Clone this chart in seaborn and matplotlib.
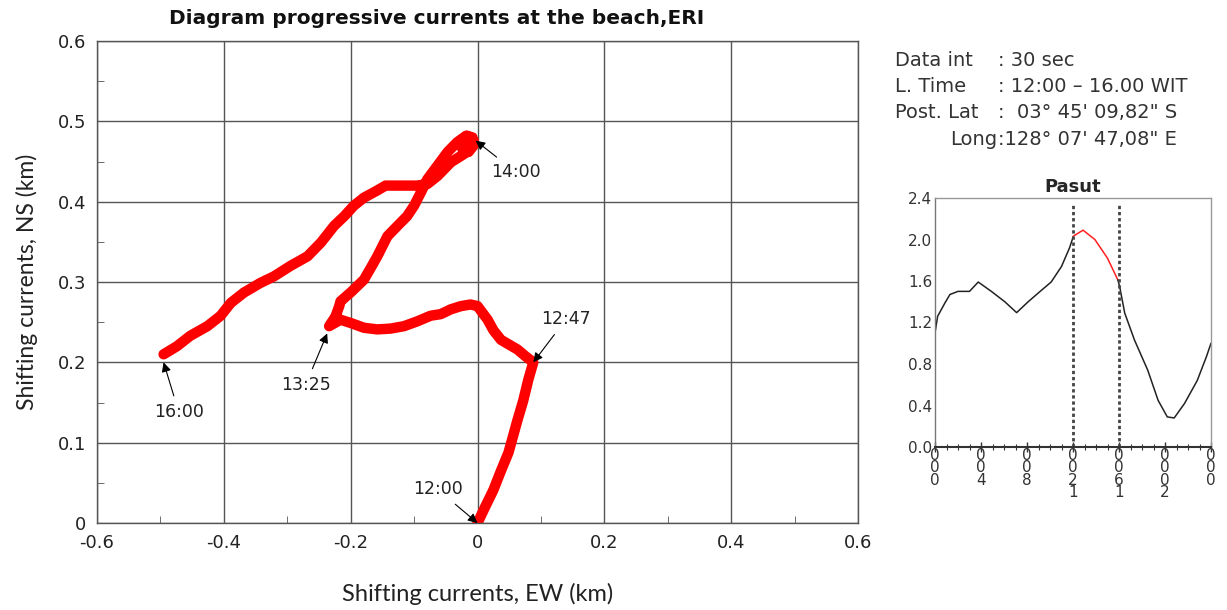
import numpy as np
import pandas as pd
import matplotlib
matplotlib.use("Agg")
import matplotlib.pyplot as plt
import seaborn as sns

# progressive vector track (km)
ew = [0.0, 0.012, 0.025, 0.037, 0.049, 0.056, 0.063, 0.072, 0.080, 0.088,
      0.075, 0.063, 0.050, 0.037, 0.025, 0.016, 0.0, -0.011, -0.026, -0.042,
      -0.058, -0.074, -0.095, -0.116, -0.137, -0.158, -0.179, -0.200, -0.216, -0.234,
      -0.224, -0.218, -0.216, -0.200, -0.179, -0.168, -0.158, -0.142, -0.126, -0.111,
      -0.100, -0.089, -0.079, -0.063, -0.047, -0.032, -0.018, -0.008, -0.006, -0.014,
      -0.024, -0.026, -0.016, -0.006, -0.016, -0.030, -0.042, -0.063, -0.079, -0.095,
      -0.121, -0.145, -0.158, -0.179, -0.195, -0.210, -0.226, -0.247, -0.268, -0.295,
      -0.321, -0.342, -0.368, -0.389, -0.405, -0.426, -0.453, -0.474, -0.495]
ns = [0.0, 0.020, 0.041, 0.065, 0.088, 0.108, 0.128, 0.152, 0.178, 0.200,
      0.208, 0.216, 0.222, 0.228, 0.240, 0.253, 0.270, 0.272, 0.270, 0.266,
      0.260, 0.258, 0.251, 0.245, 0.242, 0.241, 0.243, 0.249, 0.253, 0.245,
      0.257, 0.270, 0.276, 0.287, 0.303, 0.318, 0.332, 0.357, 0.370, 0.382,
      0.395, 0.412, 0.428, 0.445, 0.462, 0.474, 0.482, 0.480, 0.470, 0.462,
      0.466, 0.476, 0.482, 0.476, 0.462, 0.455, 0.449, 0.432, 0.422, 0.420,
      0.420, 0.420, 0.414, 0.405, 0.395, 0.382, 0.370, 0.349, 0.332, 0.320,
      0.307, 0.299, 0.287, 0.274, 0.258, 0.245, 0.233, 0.220, 0.210]

# time marks: label, point, text position
mark_labels = ["12:00", "12:47", "13:25", "14:00", "16:00"]
mark_xy = [(0.0, 0.0), (0.088, 0.2), (-0.237, 0.236), (-0.003, 0.476), (-0.495, 0.2)]
mark_text = [(-0.063, 0.042), (0.14, 0.254), (-0.271, 0.172), (0.06, 0.437), (-0.471, 0.138)]

# tide (Pasut) curve, hours vs metres
tide_h = [0.0, 0.23, 0.87, 1.3, 2.0, 3.0, 3.76, 4.9, 6.07, 7.1, 8.1, 9.25, 10.1, 11.0, 11.7, 12.0]
tide_v = [1.10, 1.26, 1.39, 1.47, 1.50, 1.50, 1.59, 1.50, 1.40, 1.295, 1.40, 1.51, 1.59, 1.74, 1.92, 2.02]
obs_h = [12.0, 12.87, 13.9, 15.0, 15.9]
obs_v = [2.03, 2.09, 2.00, 1.82, 1.61]
tide2_h = [15.9, 16.05, 16.5, 17.35, 18.5, 19.4, 20.2, 20.8, 21.7, 22.8, 23.6, 24.0]
tide2_v = [1.61, 1.55, 1.29, 1.03, 0.74, 0.45, 0.29, 0.28, 0.42, 0.64, 0.87, 1.00]
tide_ticks = [0, 4, 8, 12, 16, 20, 24]
tide_ticklabels = ["000", "400", "800", "1200", "1600", "2000", "000"]

info_keys = ["Data int", "L. Time", "Post. Lat", "Long"]
info_vals = [": 30 sec", ": 12:00 \u2013 16.00 WIT", ":  03\u00b0 45' 09,82\" S", ":128\u00b0 07' 47,08\" E"]

sns.set_style("white")
plt.rcParams['font.family'] = ['DejaVu Sans']

fig = plt.figure(figsize=(12.27, 6.10), dpi=100)

# main track plot
ax = fig.add_axes([97 / 1227, 87 / 610, 761 / 1227, 482 / 610])
track = pd.DataFrame({"ew": ew, "ns": ns})
sns.lineplot(data=track, x="ew", y="ns", sort=False, estimator=None, color="#ff0000",
             linewidth=7.5, ax=ax, solid_capstyle="round", solid_joinstyle="round")
ax.set_xlim(-0.6, 0.6)
ax.set_ylim(0, 0.6)
ax.set_xticks(np.arange(-0.6, 0.61, 0.2))
ax.set_xticklabels(["-0.6", "-0.4", "-0.2", "0", "0.2", "0.4", "0.6"])
ax.set_yticks(np.arange(0, 0.61, 0.1))
ax.set_yticklabels(["0", "0.1", "0.2", "0.3", "0.4", "0.5", "0.6"])
ax.set_xticks(np.arange(-0.5, 0.6, 0.2), minor=True)
ax.set_yticks(np.arange(0.05, 0.6, 0.1), minor=True)
ax.grid(True, which="major", color="#555555", linewidth=1.0)
ax.set_axisbelow(True)
ax.tick_params(which="major", length=0, labelsize=13, pad=8, labelcolor="#222222")
ax.tick_params(which="minor", direction="in", length=5, color="#555555",
               bottom=True, left=True)
for s in ax.spines.values():
    s.set_color("#555555")
    s.set_linewidth(1.0)
ax.set_xlabel("Shifting currents, EW (km)", fontsize=17, family="Lato", labelpad=22, color="#222222")
ax.set_ylabel("Shifting currents, NS (km)", fontsize=16.5, family="Lato", labelpad=14, color="#222222")

for lab, xy, txt in zip(mark_labels, mark_xy, mark_text):
    ax.annotate(lab, xy=xy, xytext=txt, ha="center", va="center", fontsize=12.5,
                color="#222222",
                arrowprops=dict(arrowstyle="-|>", color="black", lw=0.8,
                                mutation_scale=14, shrinkA=3, shrinkB=0))

fig.text(437 / 1227, 1 - 18 / 610, "Diagram progressive currents at the beach,ERI",
         ha="center", va="center", fontsize=14.5, fontweight="bold", color="#111111")

# info block
for i, (k, v) in enumerate(zip(info_keys, info_vals)):
    y = 1 - (60 + i * 26.5) / 610
    if k == "Long":
        fig.text(997 / 1227, y, k, ha="right", va="center", fontsize=14, color="#333333")
    else:
        fig.text(895 / 1227, y, k, ha="left", va="center", fontsize=14, color="#333333")
    fig.text(998 / 1227, y, v, ha="left", va="center", fontsize=14, color="#333333")

# tide inset
ax2 = fig.add_axes([935 / 1227, 163 / 610, 276 / 1227, 249 / 610])
sns.lineplot(x=tide_h, y=tide_v, color="#222222", linewidth=1.1, ax=ax2, estimator=None, sort=False)
sns.lineplot(x=obs_h, y=obs_v, color="#ff2020", linewidth=1.1, ax=ax2, estimator=None, sort=False)
sns.lineplot(x=tide2_h, y=tide2_v, color="#222222", linewidth=1.1, ax=ax2, estimator=None, sort=False)
for h in [12, 16]:
    ax2.axvline(h, ymax=0.975, color="#444444", linestyle=(0, (1.2, 1.0)), linewidth=2.0)
ax2.set_xlim(0, 24)
ax2.set_ylim(0, 2.4)
ax2.set_yticks(np.arange(0, 2.41, 0.4))
ax2.set_yticklabels(["%.1f" % v for v in np.arange(0, 2.41, 0.4)])
ax2.set_xticks(tide_ticks)
ax2.set_xticklabels(["\n".join(reversed(s)) for s in tide_ticklabels], linespacing=0.8)
ax2.set_xticks(np.arange(0, 24.1, 1), minor=True)
ax2.tick_params(axis="x", which="major", direction="inout", length=7, width=1.0,
                color="#333333", labelsize=11, pad=-3, bottom=True, labelcolor="#333333")
ax2.tick_params(axis="x", which="minor", direction="inout", length=4, width=0.8,
                color="#333333", bottom=True)
ax2.tick_params(axis="y", length=0, labelsize=11, pad=2, labelcolor="#333333")
for lab in ax2.get_xticklabels():
    lab.set_va("top")
for k, s in ax2.spines.items():
    s.set_color("#999999")
    s.set_linewidth(1.0)
ax2.spines["bottom"].set_color("#333333")
ax2.spines["bottom"].set_linewidth(1.5)
ax2.spines["left"].set_color("#777777")
ax2.set_title("Pasut", fontsize=13, fontweight="bold", pad=4)

fig.savefig("out.png", dpi=100)
